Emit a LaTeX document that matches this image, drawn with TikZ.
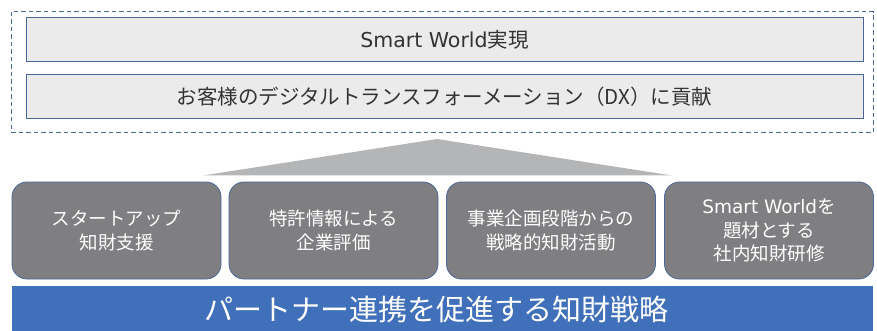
\documentclass[tikz,border=0pt]{standalone}
\usepackage{fontspec}
\setmainfont{Noto Sans CJK JP}
\newfontfamily\lat{DejaVu Sans}
\definecolor{edgeblue}{HTML}{4A6797}
\definecolor{topfill}{HTML}{EBEBEB}
\definecolor{grayfill}{HTML}{7F7F82}
\definecolor{arrowgray}{HTML}{B4B5B7}
\definecolor{barblue}{HTML}{4070BA}
\definecolor{txtdark}{HTML}{333333}
\begin{document}
\begin{tikzpicture}[x=1pt,y=-1pt,
  frame/.style={draw=edgeblue, dash pattern=on 4.5pt off 3pt, line width=1pt, minimum width=862pt, minimum height=121pt, inner sep=0pt},
  topbox/.style={draw=edgeblue, fill=topfill, line width=1pt, minimum width=837pt, minimum height=44pt, inner sep=0pt, text=txtdark, font=\fontsize{20.5}{24}\selectfont},
  graybox/.style={draw=edgeblue, fill=grayfill, line width=0.8pt, rounded corners=15pt, minimum width=209pt, minimum height=97pt, inner sep=0pt, text=white, align=center, font=\fontsize{18.5}{23.5}\selectfont},
  bar/.style={fill=barblue, minimum width=861pt, minimum height=46pt, inner sep=0pt, text=white, font=\fontsize{29}{32}\selectfont}
]
\useasboundingbox (0,0) rectangle (877,331);
\node[frame] (frame) at (442,72.5) {};
\node[topbox] (goal) at (444.5,40) {{\lat Smart World}実現};
\node[topbox] (dx) at (444.5,96.5) {お客様のデジタルトランスフォーメーション（DX）に貢献};
\fill[arrowgray] (437,139) -- (203,175.5) -- (672,175.5) -- cycle;
\node[graybox] (g1) at (116.5,230.5) {スタートアップ\\知財支援};
\node[graybox] (g2) at (333.5,230.5) {特許情報による\\企業評価};
\node[graybox] (g3) at (551,230.5) {事業企画段階からの\\戦略的知財活動};
\node[graybox] (g4) at (769,230.5) {{\lat Smart World}を\\題材とする\\社内知財研修};
\node[bar] (base) at (442.5,309) {パートナー連携を促進する知財戦略\hspace*{12pt}};
\end{tikzpicture}
\end{document}
